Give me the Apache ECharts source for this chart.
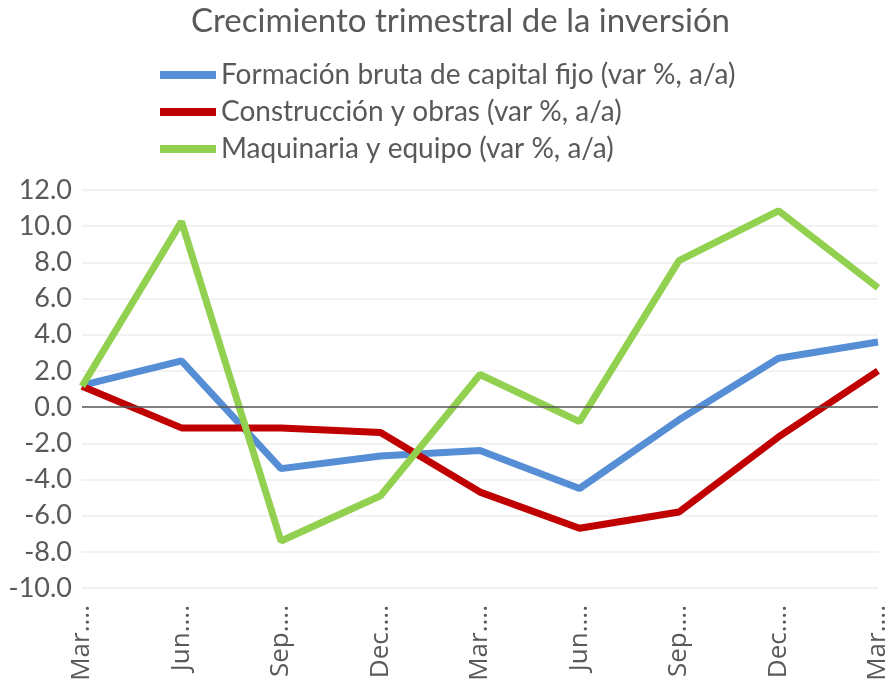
<!DOCTYPE html>
<html>
<head>
<meta charset="utf-8">
<script src="https://cdn.jsdelivr.net/npm/echarts@6/dist/echarts.min.js"></script>
<style>
  html, body { margin: 0; padding: 0; background: #fff; }
  #chart { width: 891px; height: 689px; }
</style>
</head>
<body>
<div id="chart"></div>
<script>
const categories = ['Mar....', 'Jun....', 'Sep....', 'Dec....', 'Mar....', 'Jun....', 'Sep....', 'Dec....', 'Mar....'];
const fbcf = [1.2, 2.55, -3.4, -2.7, -2.4, -4.5, -0.7, 2.7, 3.6];
const construccion = [1.15, -1.15, -1.15, -1.4, -4.7, -6.7, -5.8, -1.65, 2.0];
const maquinaria = [1.15, 10.25, -7.4, -4.9, 1.8, -0.8, 8.1, 10.85, 6.6];

const chart = echarts.init(document.getElementById('chart'));

// serie con estilo comun
function lineSeries(name, data, color) {
  return {
    name: name,
    type: 'line',
    data: data,
    symbol: 'none',
    lineStyle: { color: color, width: 7 },
    itemStyle: { color: color }
  };
}

const series = [
  lineSeries('Formación bruta de capital fijo (var %, a/a)', fbcf, '#558ed5'),
  lineSeries('Construcción y obras (var %, a/a)', construccion, '#c00000'),
  lineSeries('Maquinaria y equipo (var %, a/a)', maquinaria, '#92d050')
];
// linea de cero
series[0].markLine = {
  silent: true,
  symbol: 'none',
  label: { show: false },
  lineStyle: { color: '#595959', width: 1.5, type: 'solid' },
  data: [{ yAxis: 0 }]
};

chart.setOption({
  animation: false,
  title: {
    text: 'Crecimiento trimestral de la inversión',
    left: 186,
    top: 0,
    textStyle: { fontFamily: 'Lato', fontSize: 33, fontWeight: 'normal', color: '#595959' }
  },
  legend: {
    orient: 'vertical',
    left: 155,
    top: 56,
    itemWidth: 56,
    itemHeight: 8,
    itemGap: 9,
    icon: 'rect',
    textStyle: { fontFamily: 'Lato', fontSize: 28, color: '#595959' }
  },
  grid: { left: 82, right: 10, top: 190, bottom: 101, containLabel: false },
  xAxis: {
    type: 'category',
    data: categories,
    boundaryGap: false,
    axisLine: { show: false, onZero: false },
    axisTick: { show: false },
    axisLabel: {
      rotate: 90,
      interval: 0,
      margin: 17,
      fontFamily: 'Open Sans',
      fontSize: 26,
      color: '#595959',
      overflow: 'none'
    },
    splitLine: { show: false }
  },
  yAxis: {
    type: 'value',
    min: -10,
    max: 12,
    interval: 2,
    axisLine: { show: false },
    axisTick: { show: false },
    axisLabel: {
      margin: 10,
      fontFamily: 'Lato',
      fontSize: 27,
      color: '#595959',
      formatter: v => v.toFixed(1)
    },
    splitLine: { lineStyle: { color: '#eeeeee', width: 1.5 } }
  },
  series: series
});
</script>
</body>
</html>
